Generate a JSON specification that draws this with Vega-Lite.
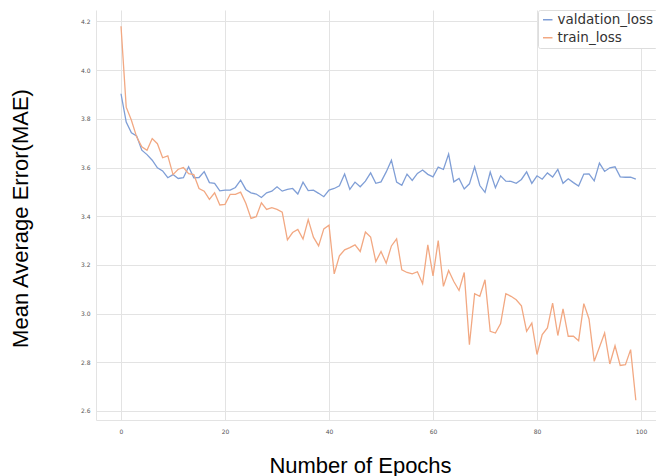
{
  "$schema": "https://vega.github.io/schema/vega-lite/v6.json",
  "width": 560,
  "height": 410,
  "autosize": {"type": "none"},
  "padding": {"left": 96, "top": 10, "right": 0, "bottom": 56},
  "background": "white",
  "config": {
    "view": {"stroke": null},
    "font": "DejaVu Sans"
  },
  "datasets": {
    "loss": [
      {"epoch": 0, "series": "valdation_loss", "mae": 3.903}, {"epoch": 1, "series": "valdation_loss", "mae": 3.787}, {"epoch": 2, "series": "valdation_loss", "mae": 3.743}, {"epoch": 3, "series": "valdation_loss", "mae": 3.730}, {"epoch": 4, "series": "valdation_loss", "mae": 3.671}, {"epoch": 5, "series": "valdation_loss", "mae": 3.653}, {"epoch": 6, "series": "valdation_loss", "mae": 3.630}, {"epoch": 7, "series": "valdation_loss", "mae": 3.599}, {"epoch": 8, "series": "valdation_loss", "mae": 3.586}, {"epoch": 9, "series": "valdation_loss", "mae": 3.558},
      {"epoch": 10, "series": "valdation_loss", "mae": 3.571}, {"epoch": 11, "series": "valdation_loss", "mae": 3.555}, {"epoch": 12, "series": "valdation_loss", "mae": 3.558}, {"epoch": 13, "series": "valdation_loss", "mae": 3.603}, {"epoch": 14, "series": "valdation_loss", "mae": 3.558}, {"epoch": 15, "series": "valdation_loss", "mae": 3.559}, {"epoch": 16, "series": "valdation_loss", "mae": 3.583}, {"epoch": 17, "series": "valdation_loss", "mae": 3.538}, {"epoch": 18, "series": "valdation_loss", "mae": 3.535}, {"epoch": 19, "series": "valdation_loss", "mae": 3.504},
      {"epoch": 20, "series": "valdation_loss", "mae": 3.507}, {"epoch": 21, "series": "valdation_loss", "mae": 3.507}, {"epoch": 22, "series": "valdation_loss", "mae": 3.518}, {"epoch": 23, "series": "valdation_loss", "mae": 3.548}, {"epoch": 24, "series": "valdation_loss", "mae": 3.510}, {"epoch": 25, "series": "valdation_loss", "mae": 3.496}, {"epoch": 26, "series": "valdation_loss", "mae": 3.491}, {"epoch": 27, "series": "valdation_loss", "mae": 3.477}, {"epoch": 28, "series": "valdation_loss", "mae": 3.496}, {"epoch": 29, "series": "valdation_loss", "mae": 3.503},
      {"epoch": 30, "series": "valdation_loss", "mae": 3.521}, {"epoch": 31, "series": "valdation_loss", "mae": 3.503}, {"epoch": 32, "series": "valdation_loss", "mae": 3.510}, {"epoch": 33, "series": "valdation_loss", "mae": 3.514}, {"epoch": 34, "series": "valdation_loss", "mae": 3.491}, {"epoch": 35, "series": "valdation_loss", "mae": 3.540}, {"epoch": 36, "series": "valdation_loss", "mae": 3.505}, {"epoch": 37, "series": "valdation_loss", "mae": 3.507}, {"epoch": 38, "series": "valdation_loss", "mae": 3.494}, {"epoch": 39, "series": "valdation_loss", "mae": 3.480},
      {"epoch": 40, "series": "valdation_loss", "mae": 3.507}, {"epoch": 41, "series": "valdation_loss", "mae": 3.514}, {"epoch": 42, "series": "valdation_loss", "mae": 3.525}, {"epoch": 43, "series": "valdation_loss", "mae": 3.573}, {"epoch": 44, "series": "valdation_loss", "mae": 3.510}, {"epoch": 45, "series": "valdation_loss", "mae": 3.540}, {"epoch": 46, "series": "valdation_loss", "mae": 3.521}, {"epoch": 47, "series": "valdation_loss", "mae": 3.544}, {"epoch": 48, "series": "valdation_loss", "mae": 3.578}, {"epoch": 49, "series": "valdation_loss", "mae": 3.535},
      {"epoch": 50, "series": "valdation_loss", "mae": 3.541}, {"epoch": 51, "series": "valdation_loss", "mae": 3.582}, {"epoch": 52, "series": "valdation_loss", "mae": 3.630}, {"epoch": 53, "series": "valdation_loss", "mae": 3.540}, {"epoch": 54, "series": "valdation_loss", "mae": 3.527}, {"epoch": 55, "series": "valdation_loss", "mae": 3.573}, {"epoch": 56, "series": "valdation_loss", "mae": 3.547}, {"epoch": 57, "series": "valdation_loss", "mae": 3.576}, {"epoch": 58, "series": "valdation_loss", "mae": 3.590}, {"epoch": 59, "series": "valdation_loss", "mae": 3.572},
      {"epoch": 60, "series": "valdation_loss", "mae": 3.562}, {"epoch": 61, "series": "valdation_loss", "mae": 3.602}, {"epoch": 62, "series": "valdation_loss", "mae": 3.592}, {"epoch": 63, "series": "valdation_loss", "mae": 3.655}, {"epoch": 64, "series": "valdation_loss", "mae": 3.541}, {"epoch": 65, "series": "valdation_loss", "mae": 3.555}, {"epoch": 66, "series": "valdation_loss", "mae": 3.512}, {"epoch": 67, "series": "valdation_loss", "mae": 3.533}, {"epoch": 68, "series": "valdation_loss", "mae": 3.603}, {"epoch": 69, "series": "valdation_loss", "mae": 3.526},
      {"epoch": 70, "series": "valdation_loss", "mae": 3.498}, {"epoch": 71, "series": "valdation_loss", "mae": 3.581}, {"epoch": 72, "series": "valdation_loss", "mae": 3.517}, {"epoch": 73, "series": "valdation_loss", "mae": 3.566}, {"epoch": 74, "series": "valdation_loss", "mae": 3.544}, {"epoch": 75, "series": "valdation_loss", "mae": 3.543}, {"epoch": 76, "series": "valdation_loss", "mae": 3.535}, {"epoch": 77, "series": "valdation_loss", "mae": 3.551}, {"epoch": 78, "series": "valdation_loss", "mae": 3.582}, {"epoch": 79, "series": "valdation_loss", "mae": 3.535},
      {"epoch": 80, "series": "valdation_loss", "mae": 3.566}, {"epoch": 81, "series": "valdation_loss", "mae": 3.552}, {"epoch": 82, "series": "valdation_loss", "mae": 3.578}, {"epoch": 83, "series": "valdation_loss", "mae": 3.561}, {"epoch": 84, "series": "valdation_loss", "mae": 3.592}, {"epoch": 85, "series": "valdation_loss", "mae": 3.535}, {"epoch": 86, "series": "valdation_loss", "mae": 3.554}, {"epoch": 87, "series": "valdation_loss", "mae": 3.538}, {"epoch": 88, "series": "valdation_loss", "mae": 3.524}, {"epoch": 89, "series": "valdation_loss", "mae": 3.573},
      {"epoch": 90, "series": "valdation_loss", "mae": 3.574}, {"epoch": 91, "series": "valdation_loss", "mae": 3.545}, {"epoch": 92, "series": "valdation_loss", "mae": 3.618}, {"epoch": 93, "series": "valdation_loss", "mae": 3.584}, {"epoch": 94, "series": "valdation_loss", "mae": 3.599}, {"epoch": 95, "series": "valdation_loss", "mae": 3.603}, {"epoch": 96, "series": "valdation_loss", "mae": 3.562}, {"epoch": 97, "series": "valdation_loss", "mae": 3.560}, {"epoch": 98, "series": "valdation_loss", "mae": 3.560}, {"epoch": 99, "series": "valdation_loss", "mae": 3.552},
      {"epoch": 0, "series": "train_loss", "mae": 4.180}, {"epoch": 1, "series": "train_loss", "mae": 3.848}, {"epoch": 2, "series": "train_loss", "mae": 3.794}, {"epoch": 3, "series": "train_loss", "mae": 3.726}, {"epoch": 4, "series": "train_loss", "mae": 3.685}, {"epoch": 5, "series": "train_loss", "mae": 3.671}, {"epoch": 6, "series": "train_loss", "mae": 3.719}, {"epoch": 7, "series": "train_loss", "mae": 3.698}, {"epoch": 8, "series": "train_loss", "mae": 3.640}, {"epoch": 9, "series": "train_loss", "mae": 3.648},
      {"epoch": 10, "series": "train_loss", "mae": 3.571}, {"epoch": 11, "series": "train_loss", "mae": 3.593}, {"epoch": 12, "series": "train_loss", "mae": 3.600}, {"epoch": 13, "series": "train_loss", "mae": 3.575}, {"epoch": 14, "series": "train_loss", "mae": 3.571}, {"epoch": 15, "series": "train_loss", "mae": 3.514}, {"epoch": 16, "series": "train_loss", "mae": 3.503}, {"epoch": 17, "series": "train_loss", "mae": 3.469}, {"epoch": 18, "series": "train_loss", "mae": 3.496}, {"epoch": 19, "series": "train_loss", "mae": 3.446},
      {"epoch": 20, "series": "train_loss", "mae": 3.449}, {"epoch": 21, "series": "train_loss", "mae": 3.490}, {"epoch": 22, "series": "train_loss", "mae": 3.490}, {"epoch": 23, "series": "train_loss", "mae": 3.499}, {"epoch": 24, "series": "train_loss", "mae": 3.453}, {"epoch": 25, "series": "train_loss", "mae": 3.391}, {"epoch": 26, "series": "train_loss", "mae": 3.398}, {"epoch": 27, "series": "train_loss", "mae": 3.455}, {"epoch": 28, "series": "train_loss", "mae": 3.428}, {"epoch": 29, "series": "train_loss", "mae": 3.435},
      {"epoch": 30, "series": "train_loss", "mae": 3.428}, {"epoch": 31, "series": "train_loss", "mae": 3.417}, {"epoch": 32, "series": "train_loss", "mae": 3.303}, {"epoch": 33, "series": "train_loss", "mae": 3.333}, {"epoch": 34, "series": "train_loss", "mae": 3.346}, {"epoch": 35, "series": "train_loss", "mae": 3.306}, {"epoch": 36, "series": "train_loss", "mae": 3.386}, {"epoch": 37, "series": "train_loss", "mae": 3.314}, {"epoch": 38, "series": "train_loss", "mae": 3.278}, {"epoch": 39, "series": "train_loss", "mae": 3.348},
      {"epoch": 40, "series": "train_loss", "mae": 3.363}, {"epoch": 41, "series": "train_loss", "mae": 3.163}, {"epoch": 42, "series": "train_loss", "mae": 3.237}, {"epoch": 43, "series": "train_loss", "mae": 3.262}, {"epoch": 44, "series": "train_loss", "mae": 3.271}, {"epoch": 45, "series": "train_loss", "mae": 3.282}, {"epoch": 46, "series": "train_loss", "mae": 3.255}, {"epoch": 47, "series": "train_loss", "mae": 3.335}, {"epoch": 48, "series": "train_loss", "mae": 3.314}, {"epoch": 49, "series": "train_loss", "mae": 3.214},
      {"epoch": 50, "series": "train_loss", "mae": 3.255}, {"epoch": 51, "series": "train_loss", "mae": 3.207}, {"epoch": 52, "series": "train_loss", "mae": 3.278}, {"epoch": 53, "series": "train_loss", "mae": 3.307}, {"epoch": 54, "series": "train_loss", "mae": 3.180}, {"epoch": 55, "series": "train_loss", "mae": 3.169}, {"epoch": 56, "series": "train_loss", "mae": 3.163}, {"epoch": 57, "series": "train_loss", "mae": 3.172}, {"epoch": 58, "series": "train_loss", "mae": 3.123}, {"epoch": 59, "series": "train_loss", "mae": 3.282},
      {"epoch": 60, "series": "train_loss", "mae": 3.155}, {"epoch": 61, "series": "train_loss", "mae": 3.300}, {"epoch": 62, "series": "train_loss", "mae": 3.112}, {"epoch": 63, "series": "train_loss", "mae": 3.177}, {"epoch": 64, "series": "train_loss", "mae": 3.132}, {"epoch": 65, "series": "train_loss", "mae": 3.095}, {"epoch": 66, "series": "train_loss", "mae": 3.169}, {"epoch": 67, "series": "train_loss", "mae": 2.872}, {"epoch": 68, "series": "train_loss", "mae": 3.082}, {"epoch": 69, "series": "train_loss", "mae": 3.071},
      {"epoch": 70, "series": "train_loss", "mae": 3.139}, {"epoch": 71, "series": "train_loss", "mae": 2.927}, {"epoch": 72, "series": "train_loss", "mae": 2.920}, {"epoch": 73, "series": "train_loss", "mae": 2.959}, {"epoch": 74, "series": "train_loss", "mae": 3.082}, {"epoch": 75, "series": "train_loss", "mae": 3.071}, {"epoch": 76, "series": "train_loss", "mae": 3.057}, {"epoch": 77, "series": "train_loss", "mae": 3.032}, {"epoch": 78, "series": "train_loss", "mae": 2.927}, {"epoch": 79, "series": "train_loss", "mae": 2.961},
      {"epoch": 80, "series": "train_loss", "mae": 2.832}, {"epoch": 81, "series": "train_loss", "mae": 2.914}, {"epoch": 82, "series": "train_loss", "mae": 2.941}, {"epoch": 83, "series": "train_loss", "mae": 3.043}, {"epoch": 84, "series": "train_loss", "mae": 2.910}, {"epoch": 85, "series": "train_loss", "mae": 3.019}, {"epoch": 86, "series": "train_loss", "mae": 2.907}, {"epoch": 87, "series": "train_loss", "mae": 2.907}, {"epoch": 88, "series": "train_loss", "mae": 2.889}, {"epoch": 89, "series": "train_loss", "mae": 3.041},
      {"epoch": 90, "series": "train_loss", "mae": 2.978}, {"epoch": 91, "series": "train_loss", "mae": 2.804}, {"epoch": 92, "series": "train_loss", "mae": 2.862}, {"epoch": 93, "series": "train_loss", "mae": 2.920}, {"epoch": 94, "series": "train_loss", "mae": 2.793}, {"epoch": 95, "series": "train_loss", "mae": 2.868}, {"epoch": 96, "series": "train_loss", "mae": 2.787}, {"epoch": 97, "series": "train_loss", "mae": 2.790}, {"epoch": 98, "series": "train_loss", "mae": 2.852}, {"epoch": 99, "series": "train_loss", "mae": 2.644}
    ]
  },
  "data": {"name": "loss"},
  "mark": {"type": "line", "strokeWidth": 1.3, "clip": true},
  "encoding": {
    "x": {
      "field": "epoch",
      "type": "quantitative",
      "scale": {"domain": [-4.81, 102.88], "nice": false, "zero": false},
      "axis": {
        "title": "Number of Epochs",
        "values": [0, 20, 40, 60, 80, 100],
        "format": "d",
        "grid": true,
        "gridColor": "#e3e3e3",
        "gridWidth": 1,
        "domain": true,
        "domainColor": "#e3e3e3",
        "domainWidth": 1,
        "ticks": false,
        "labelFontSize": 6,
        "labelColor": "#555555",
        "labelPadding": 8,
        "titleFont": "Liberation Sans",
        "titleFontSize": 22,
        "titleFontWeight": "normal",
        "titleColor": "#000000",
        "titleX": 264,
        "titleY": 45,
        "titleBaseline": "middle",
        "titleAnchor": null,
        "titleAlign": "center"
      }
    },
    "y": {
      "field": "mae",
      "type": "quantitative",
      "scale": {"domain": [2.563, 4.247], "nice": false, "zero": false},
      "axis": {
        "title": "Mean Average Error(MAE)",
        "values": [2.6, 2.8, 3.0, 3.2, 3.4, 3.6, 3.8, 4.0, 4.2],
        "format": ".1f",
        "grid": true,
        "gridColor": "#e3e3e3",
        "gridWidth": 1,
        "domain": true,
        "domainColor": "#e3e3e3",
        "domainWidth": 1,
        "ticks": false,
        "labelFontSize": 6,
        "labelColor": "#555555",
        "labelPadding": 6,
        "titleFont": "Liberation Sans",
        "titleFontSize": 22,
        "titleFontWeight": "normal",
        "titleColor": "#000000",
        "titleAngle": -90,
        "titleX": -76,
        "titleY": 208,
        "titleBaseline": "middle",
        "titleAlign": "center",
        "titleAnchor": null
      }
    },
    "color": {
      "field": "series",
      "type": "nominal",
      "scale": {"domain": ["valdation_loss", "train_loss"], "range": ["#7f9ed6", "#f2a882"]},
      "legend": {
        "title": null,
        "orient": "none",
        "legendX": 442,
        "legendY": 0,
        "direction": "vertical",
        "symbolType": "stroke",
        "symbolSize": 90,
        "symbolStrokeWidth": 1.5,
        "labelFontSize": 13.5,
        "labelFont": "DejaVu Sans",
        "labelColor": "#333333",
        "labelOffset": 3,
        "rowPadding": 3,
        "padding": 3,
        "strokeColor": "#dddddd",
        "fillColor": "white",
        "cornerRadius": 2
      }
    }
  }
}
